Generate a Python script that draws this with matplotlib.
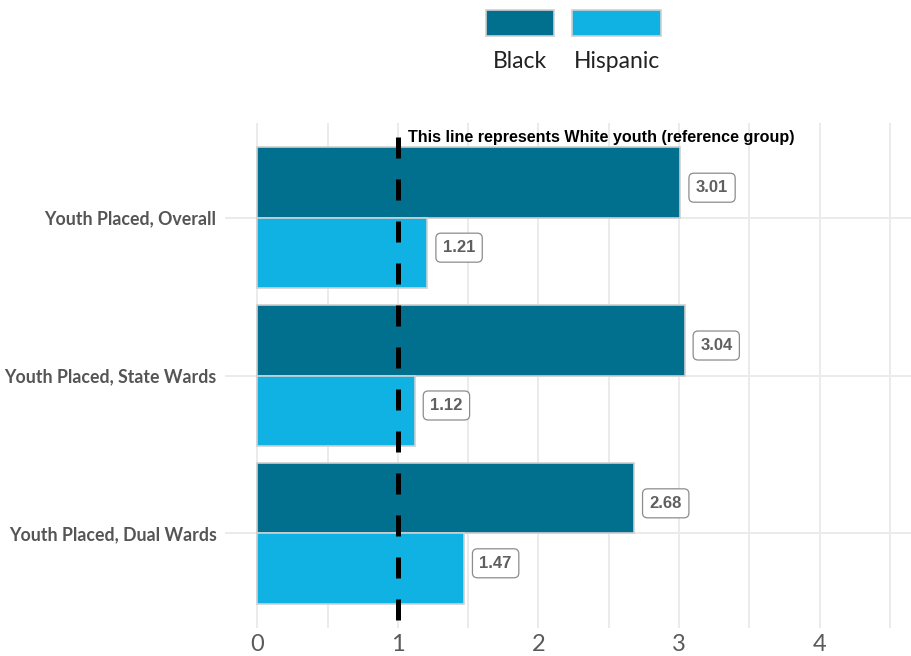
import numpy as np
import matplotlib.pyplot as plt
from matplotlib.patches import Rectangle

# data
categories = ["Youth Placed, Overall", "Youth Placed, State Wards", "Youth Placed, Dual Wards"]
black = [3.01, 3.04, 2.68]
hispanic = [1.21, 1.12, 1.47]
groups = ["Black", "Hispanic"]
colors = ["#016f8e", "#10b2e3"]
ref_value = 1
ref_text = "This line represents White youth (reference group)"

fig = plt.figure(figsize=(9.11, 6.56), dpi=100)
ax = fig.add_axes([225 / 911, 1 - 628 / 656, 1 - 225 / 911, (628 - 123) / 656])

ypos = np.arange(len(categories))[::-1] + 1  # top category highest
h = 0.445
ax.barh(ypos + h / 2, black, height=h, color=colors[0], edgecolor="#cfcfcf", linewidth=1.2, zorder=2)
ax.barh(ypos - h / 2, hispanic, height=h, color=colors[1], edgecolor="#cfcfcf", linewidth=1.2, zorder=2)

# value labels
box = dict(boxstyle="round,pad=0.42,rounding_size=0.3", fc="white", ec="#8c8c8c", lw=0.9)
for y, b, hs in zip(ypos, black, hispanic):
    ax.text(b + 0.11, y + 0.19, f"{b:.2f}", ha="left", va="center", fontsize=12,
            fontweight="bold", color="#5f5f5f", family="Liberation Sans", bbox=box, zorder=4)
    ax.text(hs + 0.11, y - 0.19, f"{hs:.2f}", ha="left", va="center", fontsize=12,
            fontweight="bold", color="#5f5f5f", family="Liberation Sans", bbox=box, zorder=4)

# reference line (dashes start at the top)
ax.plot([ref_value, ref_value], [3.51, 0.4], color="black", linewidth=3.6,
        linestyle=(0, (4.2, 4.2)), zorder=3)
ax.text(ref_value + 0.07, 3.51, ref_text, ha="left", va="center", fontsize=11.6,
        fontweight="bold", color="black", family="Liberation Sans", zorder=4)

ax.set_xlim(-0.23, 4.65)
ax.set_ylim(0.4, 3.6)
ax.set_xticks([0, 1, 2, 3, 4])
ax.set_xticks([0.5, 1.5, 2.5, 3.5, 4.5], minor=True)
ax.set_yticks(ypos)
ax.set_yticklabels(categories, fontsize=12.8, fontweight="bold", color="#555555", family="Lato")
for lab in ax.get_xticklabels():
    lab.set_family("Lato")
ax.tick_params(axis="x", which="both", length=0, labelsize=17, labelcolor="#5a5a5a", pad=4)
ax.tick_params(axis="y", length=0, pad=6)
ax.grid(True, which="both", axis="x", color="#ebebeb", linewidth=1.4, zorder=0)
ax.grid(True, which="major", axis="y", color="#ebebeb", linewidth=1.4, zorder=0)
ax.set_axisbelow(True)
for s in ax.spines.values():
    s.set_visible(False)

# legend at the top: keys above labels
legend_x = [486, 572]
legend_w = [68, 89]
for x0, w, c, g in zip(legend_x, legend_w, colors, groups):
    fig.patches.append(Rectangle((x0 / 911, 1 - 36 / 656), w / 911, 26 / 656,
                                 transform=fig.transFigure, fc=c, ec="#d0d0d0", lw=1.2))
    fig.text((x0 + w / 2) / 911, 1 - 62 / 656, g, ha="center", va="center",
             fontsize=16.5, color="#222222", family="Lato")

fig.savefig("out.png", dpi=100)
